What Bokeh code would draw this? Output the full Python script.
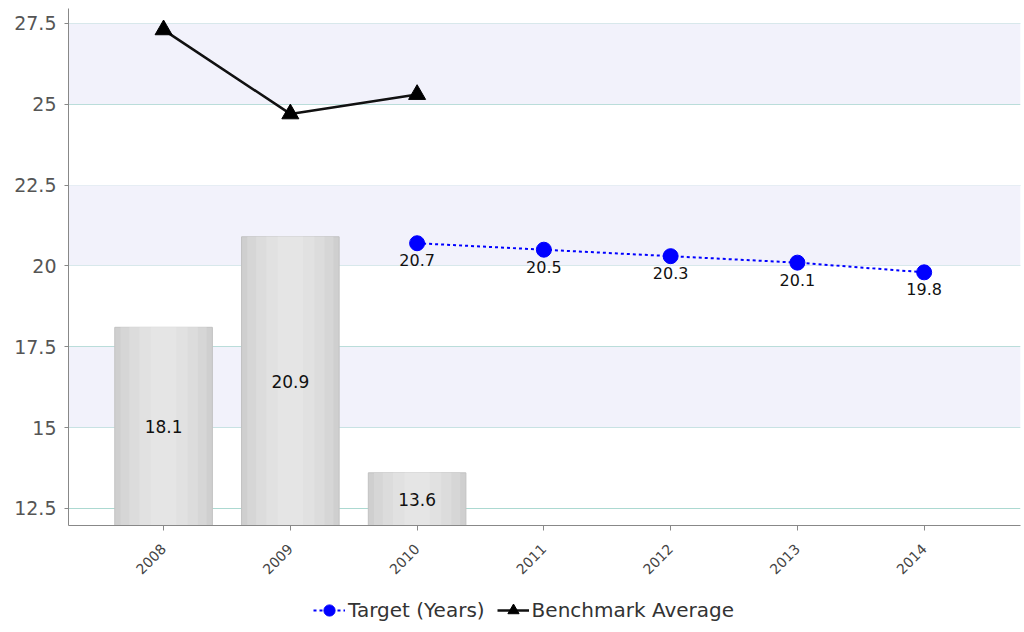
import math
from bokeh.plotting import figure
from bokeh.layouts import column
from bokeh.models import (FixedTicker, NumeralTickFormatter, ColumnDataSource, Legend,
                          LegendItem, LabelSet, Range1d, BoxAnnotation)
from bokeh.core.properties import value
from bokeh.embed import file_html
from bokeh.resources import INLINE

years = ["2008", "2009", "2010", "2011", "2012", "2013", "2014"]
actual_years = ["2008", "2009", "2010"]
actual_values = [18.1, 20.9, 13.6]
target_years = ["2010", "2011", "2012", "2013", "2014"]
target_values = [20.7, 20.5, 20.3, 20.1, 19.8]
bench_years = ["2008", "2009", "2010"]
bench_values = [27.3, 24.7, 25.3]
y_ticks = [12.5, 15, 17.5, 20, 22.5, 25, 27.5]
series_names = ["Target (Years)", "Benchmark Average"]

Y0, Y1 = 11.97, 27.96
pos = {y: i for i, y in enumerate(years)}
FONT = "DejaVu Sans"

p = figure(width=1022, height=595, output_backend="svg", toolbar_location=None,
           x_range=Range1d(-0.75, 6.76), y_range=Range1d(Y0, Y1),
           min_border_left=68, min_border_right=2, min_border_top=8, min_border_bottom=70)
p.outline_line_color = None
p.background_fill_color = "white"

# alternating bands (between every other pair of grid lines, from the top)
for lo, hi in zip(y_ticks[-2::-2], y_ticks[::-2]):
    p.add_layout(BoxAnnotation(bottom=lo, top=hi, fill_color="#f0f0fa", fill_alpha=0.85,
                               line_color=None, level="underlay"))

# grid
p.xgrid.grid_line_color = None
p.ygrid.ticker = FixedTicker(ticks=y_ticks)
p.ygrid.grid_line_color = "#acd9d1"
p.ygrid.grid_line_width = 1

# axes
p.yaxis.ticker = FixedTicker(ticks=y_ticks)
p.yaxis.formatter = NumeralTickFormatter(format="0.[0]")
p.yaxis.major_label_text_font = FONT
p.yaxis.major_label_text_font_size = "19px"
p.yaxis.major_label_text_color = "#555555"
p.yaxis.axis_line_color = "#888888"
p.yaxis.major_tick_line_color = "#888888"
p.yaxis.major_tick_in = 0
p.yaxis.major_tick_out = 4
p.yaxis.major_label_standoff = 8
p.yaxis.minor_tick_line_color = None

p.xaxis.ticker = FixedTicker(ticks=list(range(len(years))))
p.xaxis.major_label_overrides = {i: y for i, y in enumerate(years)}
p.xaxis.major_label_orientation = math.pi / 4
p.xaxis.major_label_text_font = FONT
p.xaxis.major_label_text_font_size = "14px"
p.xaxis.major_label_text_color = "#444444"
p.xaxis.axis_line_color = "#888888"
p.xaxis.major_tick_line_color = "#888888"
p.xaxis.major_tick_in = 0
p.xaxis.major_tick_out = 5
p.xaxis.minor_tick_line_color = None
p.xaxis.major_label_standoff = 16

# bars (actual)
bar_src = ColumnDataSource(dict(
    x=[pos[y] for y in actual_years],
    top=actual_values,
    bottom=[Y0] * len(actual_values),
    mid=[(v + Y0) / 2 for v in actual_values],
    label=[f"{v:.1f}" for v in actual_values],
))
p.vbar(x="x", top="top", bottom="bottom", width=0.77, source=bar_src,
       fill_color="#cfcfcf", line_color="#c2c2c2", line_width=1)
for w, c in [(0.68, "#d6d6d6"), (0.54, "#dcdcdc"), (0.38, "#e1e1e1"), (0.2, "#e5e5e5")]:
    p.vbar(x="x", top="top", bottom="bottom", width=w, source=bar_src,
           fill_color=c, line_color=None)
p.add_layout(LabelSet(x="x", y="mid", text="label", source=bar_src,
                      text_align="center", text_baseline="middle",
                      text_font=value(FONT), text_font_size="17px", text_color="#111111"))

# target line
t_src = ColumnDataSource(dict(
    x=[pos[y] for y in target_years],
    y=target_values,
    label=[f"{v:.1f}" for v in target_values],
))
t_style = dict(line_color="#0000ff", line_width=2, line_dash="3 3")
t_mark = dict(marker="circle", size=15, fill_color="#0000ff", line_color="#0000ff")
p.line("x", "y", source=t_src, **t_style)
p.scatter("x", "y", source=t_src, **t_mark)
p.add_layout(LabelSet(x="x", y="y", text="label", source=t_src, y_offset=-11,
                      text_align="center", text_baseline="top",
                      text_font=value(FONT), text_font_size="16px", text_color="#111111"))

# benchmark line
b_src = ColumnDataSource(dict(x=[pos[y] for y in bench_years], y=bench_values))
b_style = dict(line_color="#111111", line_width=2.5)
b_mark = dict(marker="triangle", size=17, fill_color="#000000", line_color="#000000")
p.line("x", "y", source=b_src, **b_style)
p.scatter("x", "y", source=b_src, **b_mark)

# legend strip below the chart (its renderers use the same data, outside its view)
lg = figure(width=1022, height=30, output_backend="svg", toolbar_location=None,
            x_range=Range1d(-1, -0.5), y_range=Range1d(-1, -0.5),
            x_axis_type=None, y_axis_type=None, min_border=0)
lg.outline_line_color = None
lg.xgrid.visible = False
lg.ygrid.visible = False
lt_line = lg.line("x", "y", source=t_src, **t_style)
lt_pts = lg.scatter("x", "y", source=t_src, **t_mark)
lb_line = lg.line("x", "y", source=b_src, **b_style)
lb_pts = lg.scatter("x", "y", source=b_src, **b_mark)
legend = Legend(items=[LegendItem(label=series_names[0], renderers=[lt_line, lt_pts]),
                       LegendItem(label=series_names[1], renderers=[lb_line, lb_pts])],
                orientation="horizontal", location=(245, 1),
                border_line_color=None, background_fill_alpha=0,
                label_text_font=FONT, label_text_font_size="20px",
                label_text_color="#333333", glyph_width=32, glyph_height=28,
                spacing=12, padding=0, margin=0, label_standoff=3)
lg.add_layout(legend, "center")

open("out.html", "w").write(file_html(column(p, lg, spacing=0), INLINE))
